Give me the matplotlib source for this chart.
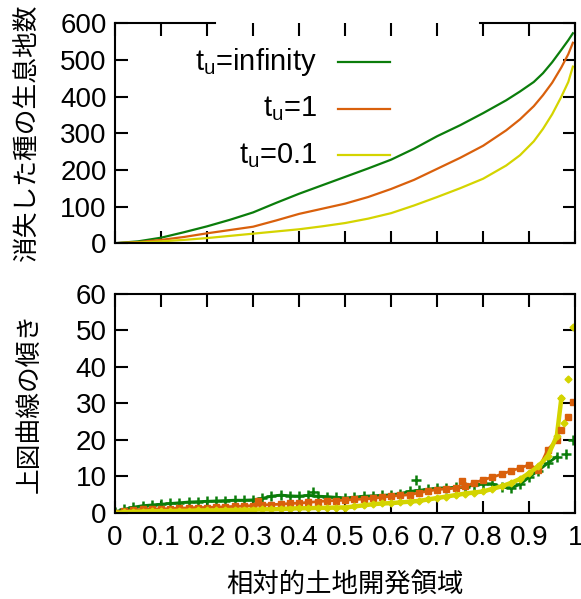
import matplotlib
matplotlib.use("Agg")
import matplotlib.pyplot as plt

plt.rcParams['font.family'] = ['Liberation Sans', 'Noto Sans CJK JP', 'DejaVu Sans']
plt.rcParams['mathtext.fontset'] = 'custom'
plt.rcParams['mathtext.rm'] = 'Liberation Sans'
plt.rcParams['mathtext.it'] = 'Liberation Sans'

GREEN = '#0b7d0b'
ORANGE = '#d9600c'
YELLOW = '#d4d400'

labels = ['$\\mathregular{t_u}$=infinity', '$\\mathregular{t_u}$=1', '$\\mathregular{t_u}$=0.1']

# top panel: cumulative extinct species vs relative land development
top_x_inf = [0, 0.05, 0.1, 0.15, 0.2, 0.25, 0.3, 0.35, 0.4, 0.45, 0.5, 0.55, 0.6, 0.65,
             0.7, 0.75, 0.8, 0.85, 0.88, 0.91, 0.93, 0.95, 0.97, 0.985, 0.995]
top_y_inf = [0, 5, 15, 30, 46, 64, 84, 110, 135, 158, 181, 204, 228, 258,
             292, 322, 355, 390, 414, 440, 464, 494, 528, 554, 573]
top_x_1 = [0, 0.05, 0.1, 0.15, 0.2, 0.25, 0.3, 0.35, 0.4, 0.45, 0.5, 0.55, 0.6, 0.65,
           0.7, 0.75, 0.8, 0.85, 0.88, 0.91, 0.93, 0.95, 0.97, 0.985, 0.995]
top_y_1 = [0, 3, 9, 17, 27, 36, 45, 62, 80, 94, 108, 126, 148, 173,
           203, 233, 266, 308, 338, 374, 404, 438, 480, 516, 547]
top_x_01 = [0, 0.05, 0.1, 0.15, 0.2, 0.25, 0.3, 0.35, 0.4, 0.45, 0.5, 0.55, 0.6, 0.65,
            0.7, 0.75, 0.8, 0.85, 0.88, 0.91, 0.93, 0.95, 0.97, 0.985, 0.995]
top_y_01 = [0, 2, 5, 9, 14, 20, 26, 32, 38, 46, 55, 67, 82, 103,
            126, 150, 176, 212, 240, 278, 312, 352, 400, 440, 482]

# bottom panel: slope of the upper curves
bx = [0, 0.02, 0.04, 0.06, 0.08, 0.10, 0.12, 0.14, 0.16, 0.18, 0.20, 0.22, 0.24, 0.26,
      0.28, 0.30, 0.32, 0.34, 0.36, 0.38, 0.40, 0.42, 0.44, 0.46, 0.48, 0.50, 0.52, 0.54,
      0.56, 0.58, 0.60, 0.62, 0.64, 0.66, 0.68, 0.70, 0.72, 0.74, 0.76, 0.78, 0.80, 0.82,
      0.84, 0.86, 0.88, 0.90, 0.92, 0.94, 0.96]
slope_inf = [0.3, 1.0, 1.6, 2.0, 2.2, 2.4, 2.6, 2.8, 3.0, 3.1, 3.2, 3.3, 3.4, 3.5,
             3.5, 3.6, 4.0, 4.6, 4.9, 4.7, 4.6, 4.8, 4.6, 4.5, 4.3, 4.1, 4.3, 4.6,
             4.7, 4.8, 5.0, 5.3, 5.9, 6.2, 6.5, 6.8, 6.9, 7.0, 7.2, 7.6, 8.0, 8.0,
             7.0, 6.9, 7.8, 9.8, 11.6, 13.6, 15.4]
slope_1 = [0.0, 0.5, 0.8, 1.0, 1.1, 1.1, 1.2, 1.3, 1.4, 1.5, 1.5, 1.6, 1.7, 1.8,
           1.9, 2.0, 2.2, 2.3, 2.4, 2.6, 2.7, 2.9, 3.1, 3.3, 3.4, 3.5, 3.7, 3.8,
           4.0, 4.3, 4.6, 4.8, 5.0, 5.5, 6.0, 6.4, 6.6, 6.8, 7.3, 8.2, 9.1, 9.8,
           10.6, 11.5, 12.3, 13.2, 11.9, 17.3, 20.0]
slope_01 = [0.0, 0.2, 0.3, 0.4, 0.5, 0.5, 0.5, 0.6, 0.6, 0.7, 0.7, 0.7, 0.8, 0.8,
            0.9, 0.9, 1.0, 1.0, 1.1, 1.2, 1.3, 1.3, 1.4, 1.4, 1.5, 1.5, 1.8, 2.1,
            2.4, 2.6, 2.7, 2.9, 3.1, 3.3, 3.7, 4.1, 4.5, 4.9, 5.3, 5.6, 5.9, 6.6,
            7.3, 8.2, 9.3, 10.9, 12.8, 15.5, 21.0]
# scattered extra points near the end
extra_x_inf = [0.43, 0.655, 0.98, 0.995]
extra_y_inf = [5.7, 9.1, 16.2, 20.0]
extra_x_1 = [0.31, 0.755, 0.97, 0.985, 0.995]
extra_y_1 = [3.2, 8.7, 22.8, 26.3, 30.4]
extra_x_01 = [0.97, 0.975, 0.985, 0.995]
extra_y_01 = [31.5, 24.6, 36.6, 51.0]

fig = plt.figure(figsize=(5.81, 5.99), dpi=100)
ax1 = fig.add_axes([0.198, 0.594, 0.792, 0.367])
ax2 = fig.add_axes([0.198, 0.1436, 0.792, 0.366])

for ax in (ax1, ax2):
    ax.set_xlim(0, 1)
    ax.set_xticks([i / 10 for i in range(11)])
    ax.tick_params(direction='in', length=9, width=1.5, top=True, right=True,
                   labelsize=20, pad=6)
    ax.tick_params(axis='x', pad=9)
    for s in ax.spines.values():
        s.set_linewidth(1.5)

ax1.plot(top_x_inf, top_y_inf, color=GREEN, lw=1.6)
ax1.plot(top_x_1, top_y_1, color=ORANGE, lw=1.6)
ax1.plot(top_x_01, top_y_01, color=YELLOW, lw=1.6)
ax1.set_ylim(0, 600)
ax1.set_yticks(range(0, 601, 100))
ax1.set_xticklabels([])
ax1.set_ylabel('消失した種の生息地数', fontsize=18.5, family=['Noto Sans CJK JP'], labelpad=14)

# top spine broken where the key box sits
ax1.spines['top'].set_visible(False)
ax1.plot([0, 0.217], [1, 1], transform=ax1.transAxes, color='k', lw=1.5, clip_on=False)
ax1.plot([0.793, 1], [1, 1], transform=ax1.transAxes, color='k', lw=1.5, clip_on=False)

# gnuplot-style key: right-aligned text, sample line on the right
for i, (lab, col) in enumerate(zip(labels, [GREEN, ORANGE, YELLOW])):
    yy = 0.824 - i * 0.212
    ax1.text(0.44, yy, lab, transform=ax1.transAxes, ha='right', va='center', fontsize=21)
    ax1.plot([0.485, 0.598], [yy, yy], transform=ax1.transAxes, color=col, lw=1.6)

ax2.plot(bx, slope_inf, color=GREEN, lw=2, marker='+', ms=7, mew=1.8)
ax2.plot(bx, slope_1, color=ORANGE, lw=2, marker='s', ms=5)
ax2.plot(bx + [0.97], slope_01 + [31.5], color=YELLOW, lw=3.2, marker='D', ms=3.5)
ax2.plot(extra_x_inf, extra_y_inf, ls='none', color=GREEN, marker='+', ms=7, mew=1.8)
ax2.plot(extra_x_1, extra_y_1, ls='none', color=ORANGE, marker='s', ms=5)
ax2.plot(extra_x_01, extra_y_01, ls='none', color=YELLOW, marker='D', ms=3.5)
ax2.set_ylim(0, 60)
ax2.set_yticks(range(0, 61, 10))
ax2.set_xticklabels(['0', '0.1', '0.2', '0.3', '0.4', '0.5', '0.6', '0.7', '0.8', '0.9', '1'])
ax2.set_ylabel('上図曲線の傾き', fontsize=18.5, family=['Noto Sans CJK JP'], labelpad=24)
ax2.set_xlabel('相対的土地開発領域', fontsize=19, family=['Noto Sans CJK JP'], labelpad=14)

fig.savefig('out.png', dpi=100)
